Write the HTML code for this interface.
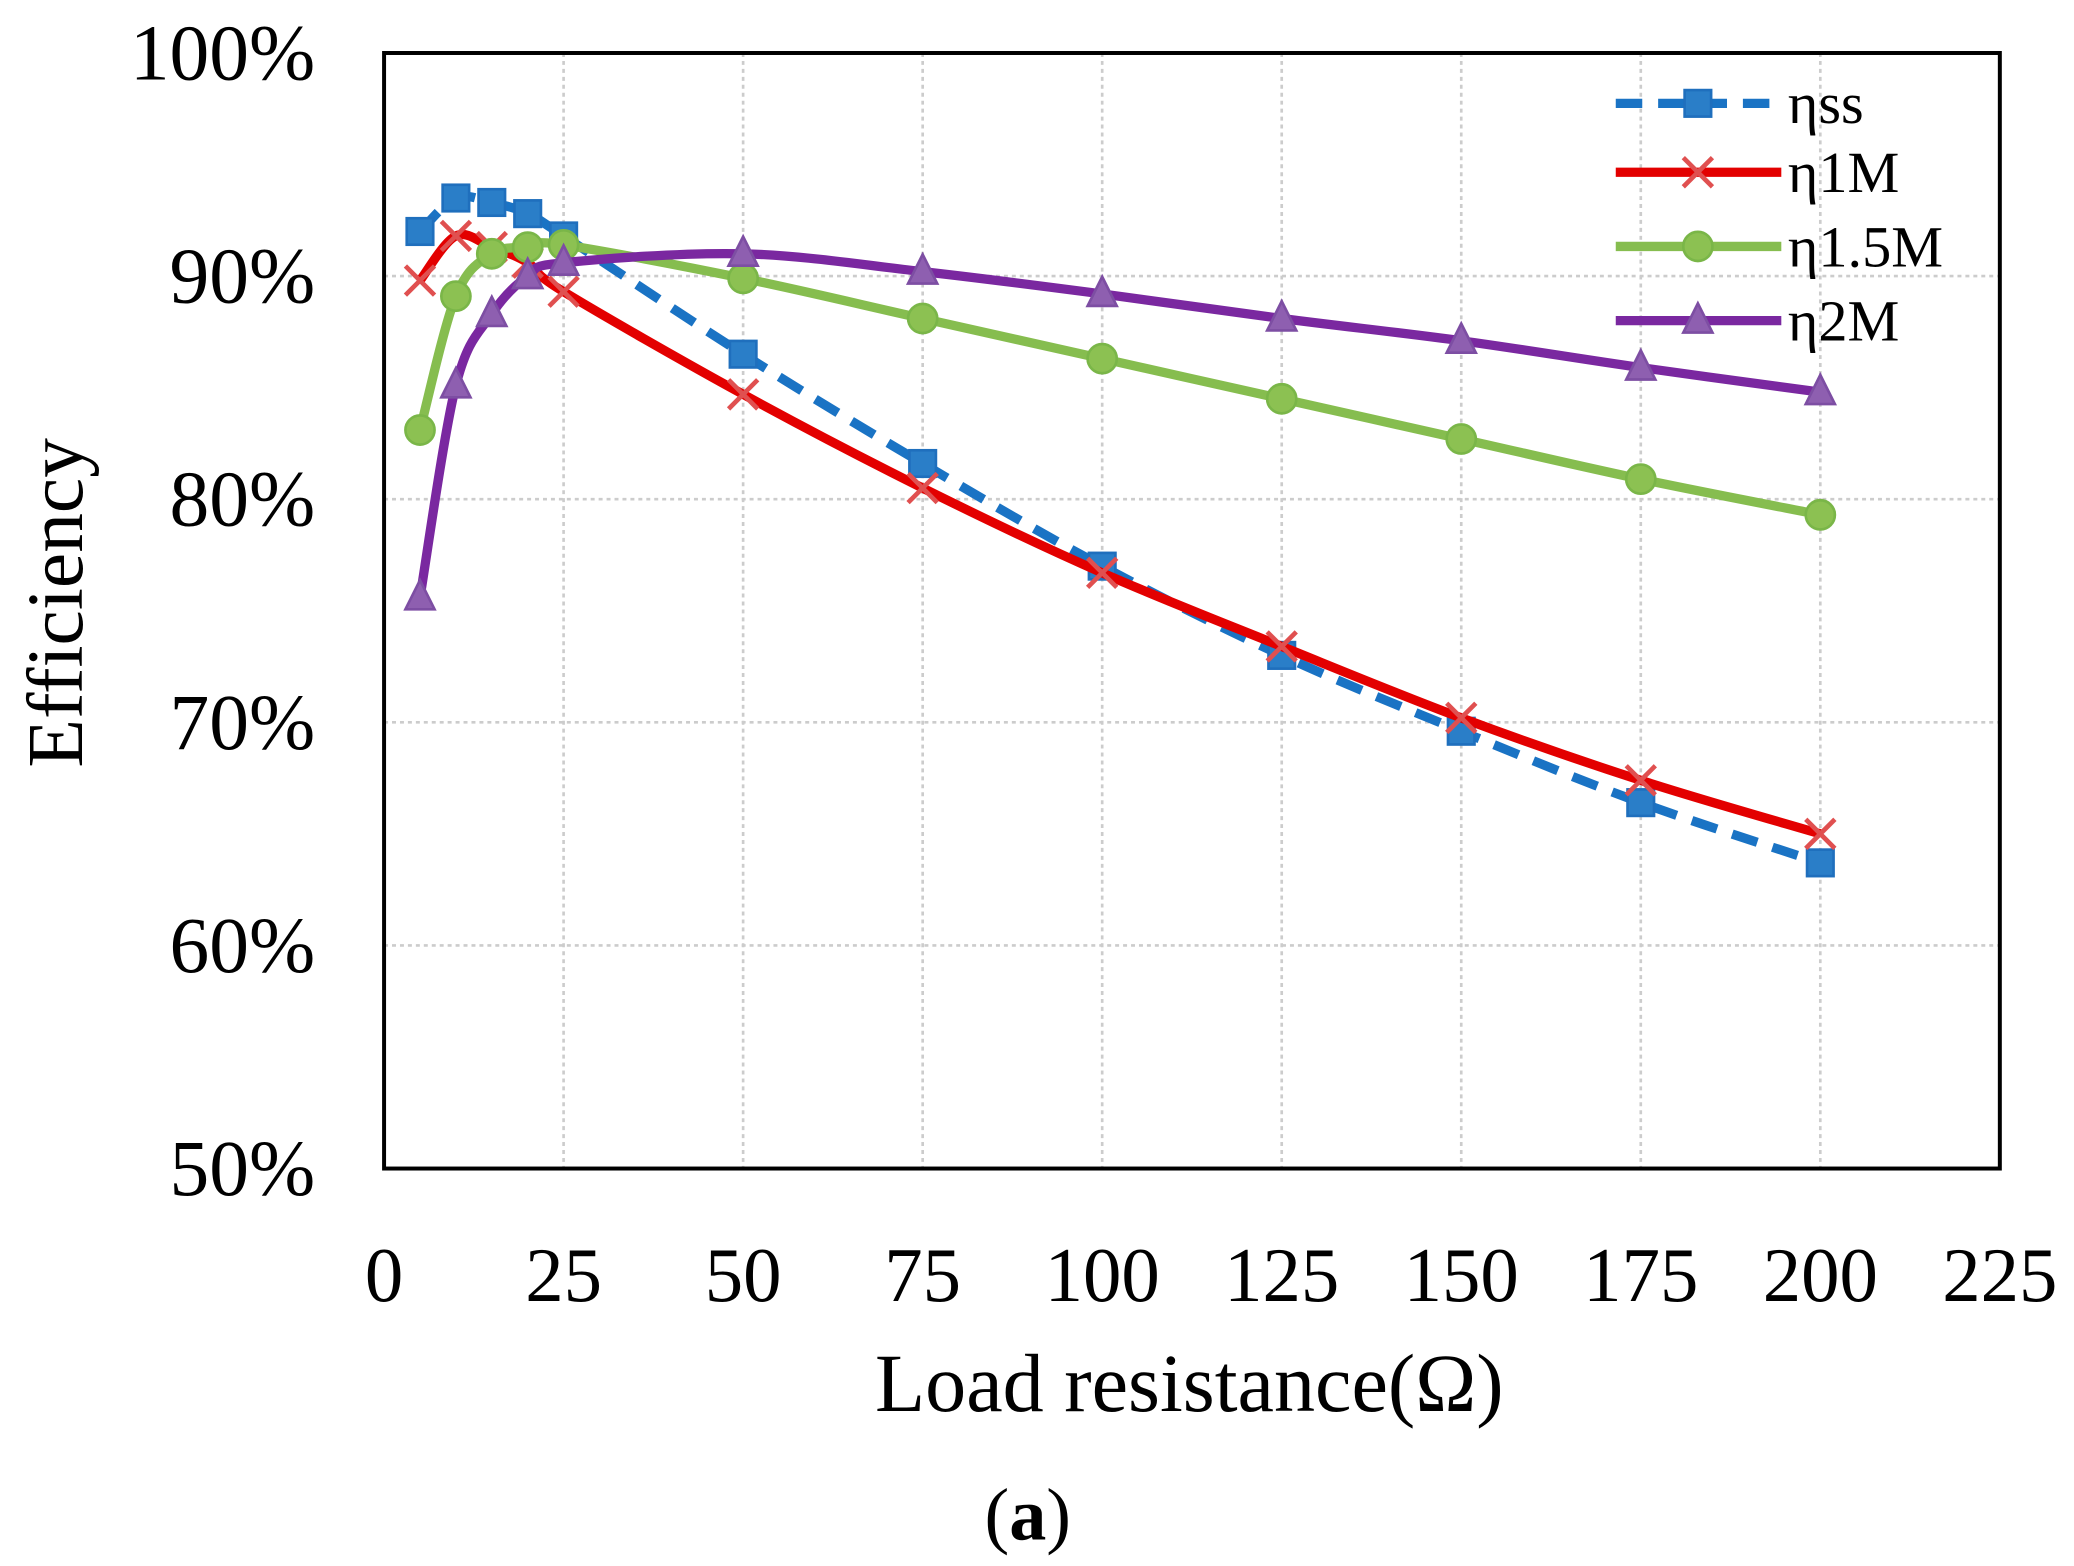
<!DOCTYPE html>
<html><head><meta charset="utf-8"><style>
html,body{margin:0;padding:0;background:#fff;}
svg{display:block;}
text{font-family:"Liberation Serif",serif;fill:#000;}
</style></head><body>
<svg id="chart" width="2074" height="1566" viewBox="0 0 1566 1182" preserveAspectRatio="none" xmlns="http://www.w3.org/2000/svg">
<g id="grid"></g>
<g id="series"></g>
<rect x="290" y="40" width="1220" height="842" fill="none" stroke="#000" stroke-width="3"/>
<g id="ticks"></g>
<text transform="translate(62,455) rotate(-90)" text-anchor="middle" font-size="60">Efficiency</text>
<text x="898" y="1065" text-anchor="middle" font-size="62">Load resistance(Ω)</text>
<text x="776" y="1162" text-anchor="middle" font-size="56">(<tspan font-weight="bold">a</tspan>)</text>
<g id="legend"></g>
</svg>
<script>
const xs = [5,10,15,20,25,50,75,100,125,150,175,200];
const ssVals = [92.0,93.5,93.3,92.8,91.8,86.5,81.6,77.0,73.0,69.6,66.4,63.7];
const m1Vals = [89.8,91.8,91.3,90.6,89.3,84.7,80.5,76.7,73.4,70.2,67.4,65.0];
const m15Vals = [83.1,89.1,91.0,91.3,91.4,89.9,88.1,86.3,84.5,82.7,80.9,79.3];
const m2Vals = [75.6,85.1,88.3,90.0,90.6,91.0,90.2,89.2,88.1,87.1,85.9,84.8];
const xTicks = [0,25,50,75,100,125,150,175,200,225];
const yTicks = [50,60,70,80,90,100];
const seriesNames = ["ηss","η1M","η1.5M","η2M"];

const NS="http://www.w3.org/2000/svg";
const X=v=>290+(v/225)*1220;
const Y=v=>882-(v-50)/50*842;
function mk(tag,attrs,parent){const e=document.createElementNS(NS,tag);for(const k in attrs)e.setAttribute(k,attrs[k]);parent.appendChild(e);return e;}
const grid=document.getElementById('grid'),ticks=document.getElementById('ticks'),ser=document.getElementById('series'),leg=document.getElementById('legend');
xTicks.forEach(t=>{
  if(t>0&&t<225){const l=mk('line',{x1:X(t),x2:X(t),y1:40,y2:882,stroke:'#ccc','stroke-width':2,'stroke-dasharray':'3,3'},grid);
  
  }
  const tx=mk('text',{x:X(t),y:982,'text-anchor':'middle','font-size':58},ticks);tx.textContent=t;
  
  
});
yTicks.forEach(t=>{
  if(t>50&&t<100){const l=mk('line',{x1:290,x2:1510,y1:Y(t),y2:Y(t),stroke:'#ccc','stroke-width':2,'stroke-dasharray':'3,3'},grid);
  
  }
  const tx=mk('text',{x:238,y:Y(t)+20,'text-anchor':'end','font-size':60},ticks);tx.textContent=t+'%';
  
  
});
function smooth(pts){let d=`M${pts[0][0]},${pts[0][1]}`;for(let i=0;i<pts.length-1;i++){const p0=pts[i-1]||pts[i],p1=pts[i],p2=pts[i+1],p3=pts[i+2]||p2;const t=1/6;
d+=` C${p1[0]+(p2[0]-p0[0])*t},${p1[1]+(p2[1]-p0[1])*t} ${p2[0]-(p3[0]-p1[0])*t},${p2[1]-(p3[1]-p1[1])*t} ${p2[0]},${p2[1]}`;}return d;}
function marker(type,x,y,g){
  if(type==='sq'){mk('rect',{x:x-10,y:y-10,width:20,height:20,fill:'#2a7ec8',stroke:'#1f6fbd','stroke-width':2},g);}
  else if(type==='x'){mk('path',{d:`M${x-11},${y-11}L${x+11},${y+11}M${x-11},${y+11}L${x+11},${y-11}`,stroke:'#e05050','stroke-width':3.5},g);}
  else if(type==='c'){mk('circle',{cx:x,cy:y,r:11,fill:'#8cc152',stroke:'#7ab648','stroke-width':2},g);}
  else {mk('path',{d:`M${x},${y-13}L${x+11},${y+9}L${x-11},${y+9}Z`,fill:'#8e5fb0',stroke:'#7d4ea3','stroke-width':2},g);}
}
const defs=[
 {vals:ssVals,color:'#1a73c4',dash:'20,12',m:'sq',name:'series-eta-ss'},
 {vals:m1Vals,color:'#e30000',dash:'',m:'x',name:'series-eta-1m'},
 {vals:m15Vals,color:'#86bd4f',dash:'',m:'c',name:'series-eta-1-5m'},
 {vals:m2Vals,color:'#7a28a0',dash:'',m:'t',name:'series-eta-2m'}];
defs.forEach((s,si)=>{
  const g=mk('g',{},ser);
  
  
  const pts=xs.map((x,i)=>[X(x),Y(s.vals[i])]);
  const p=mk('path',{d:smooth(pts),fill:'none',stroke:s.color,'stroke-width':7,'stroke-dasharray':s.dash},g);
  
  
  pts.forEach(pt=>marker(s.m,pt[0],pt[1],g));
  const ly=[78,130,186,242][si];
  const lg=mk('g',{},leg);
  
  
  mk('line',{x1:1220,x2:1345,y1:ly,y2:ly,stroke:s.color,'stroke-width':7,'stroke-dasharray':s.dash},lg);
  marker(s.m,1282,ly,lg);
  const t=mk('text',{x:1350,y:ly+15,'font-size':44},lg);t.textContent=seriesNames[si];
});
</script>
</body></html>
